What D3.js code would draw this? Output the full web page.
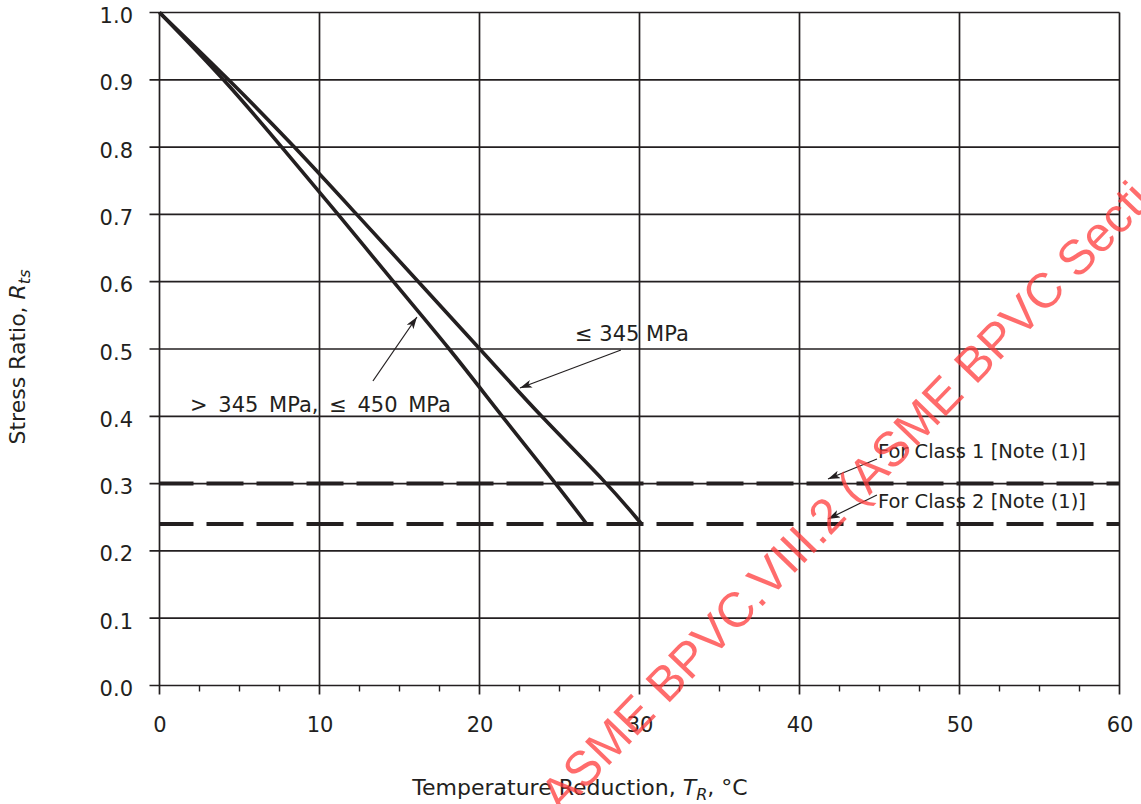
<!DOCTYPE html>
<html>
<head>
<meta charset="utf-8">
<script src="https://cdn.jsdelivr.net/npm/d3@7"></script>
<style>
  html, body { margin: 0; padding: 0; background: #fff; }
  svg { display: block; }
  text { font-family: "DejaVu Sans", "Liberation Sans", Arial, sans-serif; fill: #231f20; }
</style>
</head>
<body>
<svg id="chart" width="1141" height="804"></svg>
<script>
// ---------- data ----------
const xTickValues = [0, 10, 20, 30, 40, 50, 60];
const yTickValues = [0.0, 0.1, 0.2, 0.3, 0.4, 0.5, 0.6, 0.7, 0.8, 0.9, 1.0];
const xMinorStep = 2.5;

// curve ≤ 345 MPa
const le345Temp  = [0, 4.36, 8.47, 12.32, 16.18, 20.03, 23.82, 28.01, 30.13];
const le345Ratio = [1.0, 0.9, 0.8, 0.7, 0.6, 0.5, 0.4, 0.3, 0.24];
// curve > 345 MPa, ≤ 450 MPa
const gt345Temp  = [0, 4.09, 7.64, 11.18, 14.60, 18.16, 21.40, 24.78, 26.70];
const gt345Ratio = [1.0, 0.9, 0.8, 0.7, 0.6, 0.5, 0.4, 0.3, 0.24];

// class limits (dashed)
const classNames  = ["For Class 1 [Note (1)]", "For Class 2 [Note (1)]"];
const classRatios = [0.30, 0.24];

const curveLabels = ["≤ 345 MPa", "> 345 MPa, ≤ 450 MPa"];

// ---------- layout ----------
const x = d3.scaleLinear().domain([0, 60]).range([159.5, 1119.5]);
const y = d3.scaleLinear().domain([0, 1]).range([685.5, 12.5]);
const ink = "#231f20";

const svg = d3.select("#chart");

svg.append("defs").append("marker")
  .attr("id", "arrow")
  .attr("viewBox", "0 0 12 8")
  .attr("refX", 12).attr("refY", 4)
  .attr("markerWidth", 12).attr("markerHeight", 8)
  .attr("markerUnits", "userSpaceOnUse")
  .attr("orient", "auto")
  .append("path").attr("d", "M0,0 L12,4 L0,8 L3,4 Z").attr("fill", ink);

// grid
const grid = svg.append("g");
grid.selectAll("line.v").data(xTickValues).join("line")
  .attr("x1", d => x(d)).attr("x2", d => x(d))
  .attr("y1", y(1)).attr("y2", y(0) + 9)
  .attr("stroke", ink).attr("stroke-width", 1.7);
grid.selectAll("line.h").data(yTickValues).join("line")
  .attr("x1", x(0) - 10).attr("x2", x(60))
  .attr("y1", d => y(d)).attr("y2", d => y(d))
  .attr("stroke", ink).attr("stroke-width", 1.7);

// minor x ticks
const minor = d3.range(0, 60 + 1e-9, xMinorStep).filter(v => Math.abs(v % 10) > 1e-6);
svg.append("g").selectAll("line").data(minor).join("line")
  .attr("x1", d => x(d)).attr("x2", d => x(d))
  .attr("y1", y(0)).attr("y2", y(0) + 6)
  .attr("stroke", ink).attr("stroke-width", 1.4);

// axes via d3 (labels only; lines drawn above as grid)
const xAxis = d3.axisBottom(x).tickValues(xTickValues).tickFormat(d3.format("d")).tickSize(0).tickPadding(0);
const gx = svg.append("g").attr("transform", `translate(0,${y(0)})`).call(xAxis);
gx.select(".domain").remove();
gx.selectAll("text").attr("dy", null).attr("y", 46.5)
  .style("font-size", "21px").style("font-family", "DejaVu Sans").attr("fill", ink);

const yAxis = d3.axisLeft(y).tickValues(yTickValues).tickFormat(d3.format(".1f")).tickSize(0).tickPadding(0);
const gy = svg.append("g").attr("transform", `translate(${x(0)},0)`).call(yAxis);
gy.select(".domain").remove();
gy.selectAll("text").attr("dy", null).attr("x", -26.5).attr("y", 10)
  .style("font-size", "21px").style("font-family", "DejaVu Sans").attr("fill", ink);

// class dashed lines
svg.append("g").selectAll("line").data(classRatios).join("line")
  .attr("x1", x(0)).attr("x2", x(60))
  .attr("y1", d => y(d)).attr("y2", d => y(d))
  .attr("stroke", ink).attr("stroke-width", 4)
  .attr("stroke-dasharray", "37,13").attr("stroke-dashoffset", 3);

// curves
const line = d3.line().x(d => x(d[0])).y(d => y(d[1])).curve(d3.curveBasis);
const curves = [d3.zip(le345Temp, le345Ratio), d3.zip(gt345Temp, gt345Ratio)];
svg.append("g").selectAll("path").data(curves).join("path")
  .attr("d", line).attr("fill", "none")
  .attr("stroke", ink).attr("stroke-width", 3.6).attr("stroke-linejoin", "round");

// annotations (positions in data units)
const ann = [
  { text: curveLabels[0], tx: 25.97, ty: 0.512, size: 21, ws: 0, a: [28.84, 0.4985, 22.53, 0.442] },
  { text: curveLabels[1], tx: 1.91, ty: 0.406, size: 21, ws: 4, a: [13.34, 0.4525, 16.09, 0.5475] },
  { text: classNames[0], tx: 44.9, ty: 0.338, size: 19.5, ws: 0, a: [44.84, 0.3366, 41.78, 0.3068] },
  { text: classNames[1], tx: 44.9, ty: 0.2637, size: 19.5, ws: 0, a: [44.84, 0.283, 41.78, 0.2474] }
];
const ga = svg.append("g");
ga.selectAll("line").data(ann).join("line")
  .attr("x1", d => x(d.a[0])).attr("y1", d => y(d.a[1]))
  .attr("x2", d => x(d.a[2])).attr("y2", d => y(d.a[3]))
  .attr("stroke", ink).attr("stroke-width", 1.2)
  .attr("marker-end", "url(#arrow)");
ga.selectAll("text").data(ann).join("text")
  .attr("x", d => x(d.tx)).attr("y", d => y(d.ty))
  .style("font-size", d => d.size + "px")
  .style("word-spacing", d => d.ws + "px")
  .text(d => d.text);

// axis titles
const yt = svg.append("text")
  .attr("transform", "translate(25,357) rotate(-90)")
  .attr("text-anchor", "middle").style("font-size", "22px");
yt.append("tspan").text("Stress Ratio, ");
yt.append("tspan").attr("font-style", "italic").text("R");
yt.append("tspan").attr("font-style", "italic").attr("dy", 5).style("font-size", "16px").text("ts");

const xt = svg.append("text")
  .attr("x", 580).attr("y", 795)
  .attr("text-anchor", "middle").style("font-size", "22px");
xt.append("tspan").text("Temperature Reduction, ");
xt.append("tspan").attr("font-style", "italic").text("T");
xt.append("tspan").attr("font-style", "italic").attr("dy", 5).style("font-size", "16px").text("R");
xt.append("tspan").attr("dy", -5).text(", °C");

// watermark
svg.append("text")
  .attr("transform", "translate(561,815) rotate(-46)")
  .style("font-family", "Liberation Sans, Arial, sans-serif")
  .style("font-size", "49px")
  .style("fill", "#ff3c3c").style("opacity", 0.75)
  .text("ASME BPVC.VIII.2 (ASME BPVC Secti");
</script>
</body>
</html>
